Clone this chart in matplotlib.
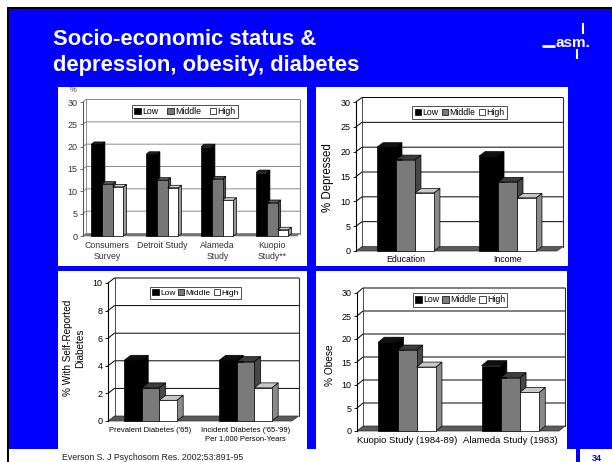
import numpy as np
import matplotlib
matplotlib.use("Agg")
import matplotlib.pyplot as plt
from matplotlib.patches import Rectangle, Polygon, Patch

plt.rcParams["font.family"] = ["Liberation Sans", "DejaVu Sans"]

# ---- data -------------------------------------------------------------
ses_labels = ["Low", "Middle", "High"]

study_cats = ["Consumers\nSurvey", "Detroit Study", "Alameda\nStudy", "Kuopio\nStudy**"]
study_low = [20.5, 18.3, 20.0, 14.2]
study_mid = [11.6, 12.5, 12.8, 7.5]
study_high = [11.0, 10.8, 8.0, 1.4]

depr_cats = ["Education", "Income"]
depr_low = [20.9, 19.1]
depr_mid = [18.4, 13.9]
depr_high = [11.7, 10.7]

diab_cats = ["Prevalent Diabetes ('65)", "Incident Diabetes ('65-'99)\nPer 1,000 Person-Years"]
diab_low = [4.4, 4.4]
diab_mid = [2.4, 4.3]
diab_high = [1.5, 2.4]

obese_cats = ["Kuopio Study (1984-89)", "Alameda Study (1983)"]
obese_low = [19.3, 14.2]
obese_mid = [17.6, 11.6]
obese_high = [13.9, 8.4]

# ---- canvas -----------------------------------------------------------
W, H = 612, 462
fig = plt.figure(figsize=(W / 100, H / 100), dpi=100)
fig.patch.set_facecolor("white")
BLUE = "#0000FF"


def rect(x0, y0, x1, y1, color, z=0):
    fig.add_artist(Rectangle((x0 / W, 1 - y1 / H), (x1 - x0) / W, (y1 - y0) / H,
                             transform=fig.transFigure, facecolor=color,
                             edgecolor="none", zorder=z))


def line(xs, ys, color, lw):
    fig.add_artist(plt.Line2D([x / W for x in xs], [1 - y / H for y in ys],
                              transform=fig.transFigure, color=color, lw=lw,
                              solid_capstyle="butt"))


rect(9, 9, 612, 449, BLUE)
rect(7, 7, 612, 9, "black")
rect(7, 7, 9, 462, "black")
rect(576, 449, 580, 462, BLUE)

# white chart cards
rect(58, 87, 307, 266, "white", 1)
rect(316, 87, 568, 266, "white", 1)
rect(58, 271, 307, 449, "white", 1)
rect(316, 271, 567, 449, "white", 1)

# heading
fig.text(53 / W, 1 - 45 / H, "Socio-economic status &", color="white",
         fontsize=15.8, fontweight="bold", va="baseline", ha="left")
fig.text(53 / W, 1 - 71 / H, "depression, obesity, diabetes", color="white",
         fontsize=15.8, fontweight="bold", va="baseline", ha="left")

# logo
fig.text(556 / W, 1 - 47 / H, "asm.", color="white", fontsize=11,
         fontweight="bold", va="baseline", ha="left")
line([542, 555], [46, 46], "white", 2.0)
line([583, 583], [23, 34], "white", 1.5)
line([577, 577], [49, 59], "white", 1.5)

# footer
fig.text(62 / W, 1 - 457.5 / H, "Everson S. J Psychosom Res. 2002;53:891-95",
         color="#202020", fontsize=6.3, va="center", ha="left")
fig.text(597 / W, 1 - 458.5 / H, "34", color=BLUE, fontsize=6.5,
         fontweight="bold", va="center", ha="center")


def draw_panel(box, xlim, ymax, ystep, cats, series, bar_w, depth, look,
               label_pad, cat_size):
    left, top, right, bottom = box
    ax = fig.add_axes([left / W, 1 - bottom / H, (right - left) / W, (bottom - top) / H])
    ax.set_zorder(5)
    ax.set_xlim(*xlim)
    ax.set_ylim(0, ymax)
    ax.set_autoscale_on(False)
    ax.patch.set_visible(False)
    for s in ("top", "right", "bottom"):
        ax.spines[s].set_visible(False)
    ax.spines["left"].set_color(look["axis"])
    ax.spines["left"].set_linewidth(0.8)

    x0, x1 = xlim
    dx = depth[0] * (x1 - x0) / (right - left)
    dy = depth[1] * ymax / (bottom - top)

    # floor slab
    ax.add_patch(Polygon([(x0, 0), (x1, 0), (x1 + dx, dy), (x0 + dx, dy)], closed=True,
                         fc=look["floor"], ec=look["frame"], lw=0.5, clip_on=False, zorder=1))
    # back wall: gridlines and frame
    ticks = np.arange(0, ymax + ystep / 2, ystep)
    for t in ticks[1:]:
        ax.plot([x0, x0 + dx, x1 + dx], [t, t + dy, t + dy], color=look["grid"],
                lw=look["grid_lw"], clip_on=False, zorder=2)
    ax.plot([x0 + dx, x0 + dx], [dy, ymax + dy], color=look["frame"], lw=0.6,
            clip_on=False, zorder=2)
    ax.plot([x1 + dx, x1 + dx], [dy, ymax + dy], color=look["frame"], lw=0.8,
            clip_on=False, zorder=2)

    # bars, drawn left to right so each front face hides the previous side face
    for i in range(len(cats)):
        for j, (vals, fc, side, topc) in enumerate(series):
            v = vals[i]
            xl = i + (j - 1) * bar_w - bar_w / 2
            xr = xl + bar_w
            ax.add_patch(Polygon([(xr, 0), (xr + dx, dy), (xr + dx, v + dy), (xr, v)],
                                 closed=True, fc=side, ec="black", lw=0.5,
                                 clip_on=False, zorder=3))
            ax.add_patch(Polygon([(xl, v), (xr, v), (xr + dx, v + dy), (xl + dx, v + dy)],
                                 closed=True, fc=topc, ec="black", lw=0.5,
                                 clip_on=False, zorder=3))
            ax.bar(xl, v, width=bar_w, align="edge", color=fc, edgecolor="black",
                   lw=0.5, zorder=3, clip_on=False)

    ax.set_yticks(ticks)
    ax.set_yticklabels([f"{t:g}" for t in ticks])
    ax.tick_params(axis="y", direction="out", length=2.5, width=0.6, labelsize=6.5,
                   pad=1.5, colors=look["axis"], labelcolor=look["text"])
    ax.set_xticks(range(len(cats)))
    ax.set_xticklabels(cats, linespacing=1.25)
    ax.tick_params(axis="x", length=0, pad=label_pad, labelsize=cat_size,
                   labelcolor=look["text"])

    handles = [Patch(fc=s[1], ec="black", lw=0.5) for s in series]
    return ax, handles


def add_legend(ax, handles, cx, cy, size, colsp=0.35):
    leg = ax.legend(handles, ses_labels, ncol=3, loc="center",
                    bbox_to_anchor=(cx / W, 1 - cy / H), bbox_transform=fig.transFigure,
                    fontsize=size, handlelength=0.75, handleheight=0.75,
                    handletextpad=0.15, columnspacing=colsp, borderpad=0.25,
                    borderaxespad=0, frameon=True, fancybox=False)
    leg.get_frame().set_edgecolor("black")
    leg.get_frame().set_linewidth(0.6)
    leg.set_zorder(10)


crisp = dict(axis="black", grid="black", grid_lw=0.7, floor="#5a5a5a",
             frame="#303030", text="black")
soft = dict(axis="#555555", grid="#8a8a8a", grid_lw=0.7, floor="#707070",
            frame="#7a7a7a", text="#333333")

# top-left: studies
ax1, h1 = draw_panel((83, 102, 297, 236), (-0.442, 3.449), 30, 5, study_cats,
                     [(study_low, "black", "black", "#202020"),
                      (study_mid, "#777777", "#505050", "#5a5a5a"),
                      (study_high, "white", "#9a9a9a", "#d0d0d0")],
                     0.196, (3, 2.5), soft, 3.5, 6.3)
add_legend(ax1, h1, 185, 111.5, 6.3, colsp=1.0)
fig.text(73 / W, 1 - 91 / H, "%", fontsize=5.5, color="#333333", ha="center", va="center")

# top-right: % depressed
ax2, h2 = draw_panel((356, 102, 557, 251), (-0.485, 1.485), 30, 5, depr_cats,
                     [(depr_low, "black", "black", "#101010"),
                      (depr_mid, "#7a7a7a", "#474747", "#3c3c3c"),
                      (depr_high, "white", "#8a8a8a", "#c8c8c8")],
                     0.186, (6, 4.5), crisp, 3.0, 6.3)
add_legend(ax2, h2, 459.5, 112.5, 6.3)
fig.text(328 / W, 1 - 178 / H, "% Depressed", rotation=90, fontsize=8.3,
         ha="center", va="center")

# bottom-left: diabetes
ax3, h3 = draw_panel((108, 283, 292, 421), (-0.447, 1.49), 10, 2, diab_cats,
                     [(diab_low, "black", "black", "#101010"),
                      (diab_mid, "#7a7a7a", "#474747", "#3c3c3c"),
                      (diab_high, "white", "#8a8a8a", "#c8c8c8")],
                     0.184, (6.5, 5), crisp, 4.0, 5.5)
add_legend(ax3, h3, 195.5, 293, 6.0)
fig.text(74 / W, 1 - 348 / H, "% With Self-Reported\nDiabetes", rotation=90,
         fontsize=7.2, ha="center", va="center", linespacing=1.25)

# bottom-right: % obese
ax4, h4 = draw_panel((357, 293, 559, 431), (-0.485, 1.47), 30, 5, obese_cats,
                     [(obese_low, "black", "black", "#101010"),
                      (obese_mid, "#7a7a7a", "#474747", "#3c3c3c"),
                      (obese_high, "white", "#8a8a8a", "#c8c8c8")],
                     0.186, (6, 5), crisp, 3.5, 6.8)
add_legend(ax4, h4, 460, 300, 6.3)
fig.text(330 / W, 1 - 365 / H, "% Obese", rotation=90, fontsize=7.3,
         ha="center", va="center")

fig.savefig("out.png", dpi=100)
